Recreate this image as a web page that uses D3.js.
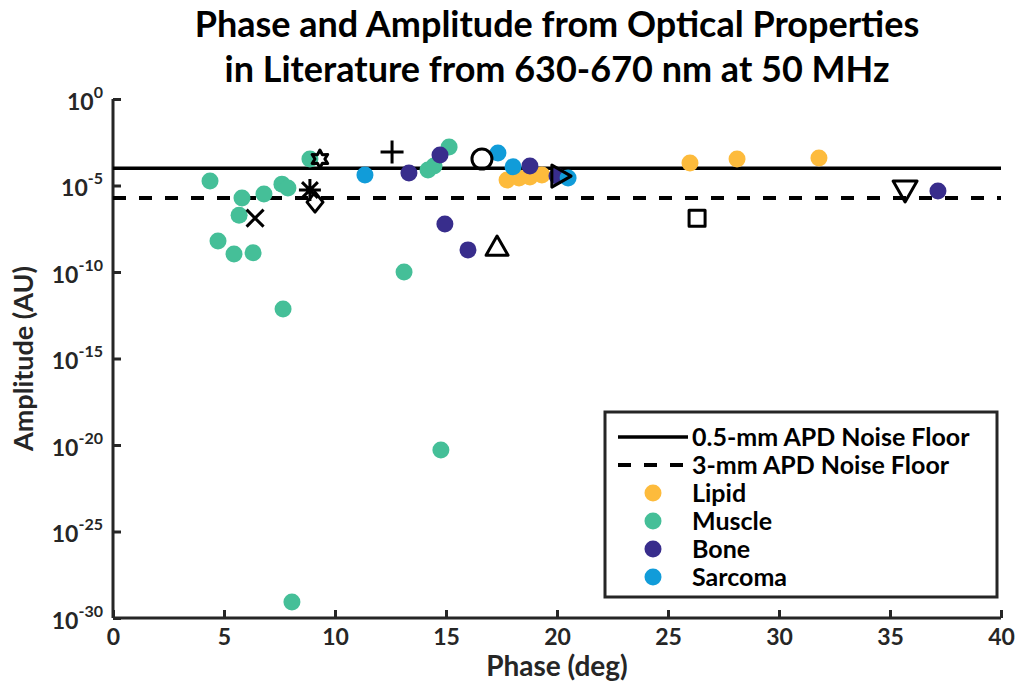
<!DOCTYPE html>
<html>
<head>
<meta charset="utf-8">
<script src="https://cdn.jsdelivr.net/npm/d3@7"></script>
<style>
  body { margin: 0; background: #fff; }
  text { font-family: Lato, "Open Sans", sans-serif; font-weight: bold; }
</style>
</head>
<body>
<svg width="1026" height="692"></svg>
<script>
// phase (deg) and amplitude (AU) per tissue group
var lipidPhase = [17.75, 18.29, 18.78, 19.32, 25.99, 28.11, 31.8];
var lipidAmp = [2.1e-5, 2.7e-5, 3.1e-5, 4.1e-5, 2.0e-4, 3.4e-4, 3.9e-4];

var musclePhase = [4.37, 5.81, 5.68, 4.73, 5.45, 6.31, 6.8, 7.61, 7.88, 7.66, 8.87, 13.11, 14.19, 14.46, 15.14, 14.77, 8.06];
var muscleAmp = [1.8e-5, 1.9e-6, 1.9e-7, 6.2e-9, 1.1e-9, 1.3e-9, 3.2e-6, 1.2e-5, 7.2e-6, 7.2e-13, 3.4e-4, 1.0e-10, 7.9e-5, 1.35e-4, 1.7e-3, 5.1e-21, 8.3e-30];

var bonePhase = [13.33, 14.73, 14.95, 15.99, 18.78, 20.0, 37.16];
var boneAmp = [5.2e-5, 5.8e-4, 5.9e-8, 1.9e-9, 1.35e-4, 3.5e-5, 4.8e-6];

var sarcomaPhase = [11.35, 17.34, 18.02, 20.5];
var sarcomaAmp = [4.1e-5, 7.6e-4, 1.2e-4, 2.7e-5];

// single literature values drawn with black open markers
var refMarkers = ["times", "hexagram", "asterisk", "diamond", "plus", "circle", "triangleUp", "triangleRight", "square", "triangleDown"];
var refPhase = [6.4, 9.32, 8.87, 9.1, 12.57, 16.62, 17.3, 20.14, 26.31, 35.68];
var refAmp = [1.3e-7, 3.4e-4, 5.5e-6, 1.1e-6, 8.7e-4, 3.4e-4, 2.8e-9, 3.5e-5, 1.3e-7, 5.5e-6];

var floorNames = ["0.5-mm APD Noise Floor", "3-mm APD Noise Floor"];
var floorAmp = [1.0e-4, 1.9e-6];

var groupNames = ["Lipid", "Muscle", "Bone", "Sarcoma"];
var groupColors = ["#fdbb3c", "#45bf98", "#382d8c", "#119cd9"];

var xTicks = [0, 5, 10, 15, 20, 25, 30, 35, 40];
var yTickExp = [0, -5, -10, -15, -20, -25, -30];

var svg = d3.select("svg"),
  margin = { top: 99, right: 25, bottom: 74, left: 113 },
  width = +svg.attr("width") - margin.left - margin.right,
  height = +svg.attr("height") - margin.top - margin.bottom,
  g = svg.append("g").attr("transform", "translate(" + margin.left + "," + margin.top + ")");

var axisColor = "#262626";

var x = d3.scaleLinear().domain([0, 40]).range([0, 888]);
var y = d3.scaleLog().domain([1e-30, 1]).range([height, 0]);

// title
var title = svg.append("text")
  .attr("text-anchor", "middle")
  .attr("font-size", 36)
  .attr("fill", "#000");
title.append("tspan").attr("x", margin.left + 444).attr("y", 37).text("Phase and Amplitude from Optical Properties");
title.append("tspan").attr("x", margin.left + 444).attr("y", 82).text("in Literature from 630-670 nm at 50 MHz");

// axes
var xAxis = g.append("g")
  .attr("transform", "translate(0," + height + ")")
  .call(d3.axisBottom(x).tickValues(xTicks).tickSize(-8).tickPadding(11).tickFormat(d3.format("d")));

var yAxis = g.append("g")
  .call(d3.axisLeft(y).tickValues(yTickExp.map(function (e) { return Math.pow(10, e); })).tickSize(-8).tickPadding(10).tickFormat(""));

[xAxis, yAxis].forEach(function (a) {
  a.select(".domain").attr("stroke", axisColor).attr("stroke-width", 3);
  a.selectAll(".tick line").attr("stroke", axisColor).attr("stroke-width", 3);
  a.selectAll(".tick text").attr("fill", axisColor).attr("font-size", 23).attr("font-family", "Lato, sans-serif").attr("font-weight", "bold");
});
xAxis.select(".domain").attr("d", "M0,0H" + x(40));
yAxis.select(".domain").attr("d", "M0," + height + "V0");

yAxis.selectAll(".tick").each(function (d) {
  var t = d3.select(this).append("text")
    .attr("x", -10)
    .attr("dy", "0.45em")
    .attr("text-anchor", "end")
    .attr("fill", axisColor)
    .attr("font-size", 23);
  t.append("tspan").text("10");
  t.append("tspan").attr("font-size", 16).attr("dy", "-0.75em").text(Math.round(Math.log10(d)));
});

g.append("text")
  .attr("x", x(20))
  .attr("y", height + 58)
  .attr("text-anchor", "middle")
  .attr("font-size", 28)
  .attr("fill", axisColor)
  .text("Phase (deg)");

g.append("text")
  .attr("transform", "rotate(-90)")
  .attr("x", -height / 2)
  .attr("y", -80)
  .attr("text-anchor", "middle")
  .attr("font-size", 27)
  .attr("fill", axisColor)
  .text("Amplitude (AU)");

// noise floors
g.selectAll(".floor")
  .data(floorAmp)
  .enter()
  .append("line")
  .attr("class", "floor")
  .attr("x1", x(0))
  .attr("x2", x(40))
  .attr("y1", function (d) { return y(d); })
  .attr("y2", function (d) { return y(d); })
  .attr("stroke", "#000")
  .attr("stroke-width", function (d, i) { return i === 0 ? 3.5 : 4; })
  .attr("stroke-dasharray", function (d, i) { return i === 0 ? null : "13,13"; });

// tissue groups
var groups = [
  { phase: lipidPhase, amp: lipidAmp },
  { phase: musclePhase, amp: muscleAmp },
  { phase: bonePhase, amp: boneAmp },
  { phase: sarcomaPhase, amp: sarcomaAmp }
];
groups.forEach(function (grp, gi) {
  g.append("g")
    .selectAll("circle")
    .data(d3.range(grp.phase.length))
    .enter()
    .append("circle")
    .attr("cx", function (i) { return x(grp.phase[i]); })
    .attr("cy", function (i) { return y(grp.amp[i]); })
    .attr("r", 8.5)
    .attr("fill", groupColors[gi]);
});

// open marker shapes, r = half the marker extent
function shape(fn) {
  return { draw: function (c, size) { fn(c, Math.sqrt(size) / 2); } };
}
var shapes = {
  times: shape(function (c, r) {
    c.moveTo(-r, -r); c.lineTo(r, r); c.moveTo(-r, r); c.lineTo(r, -r);
  }),
  plus: shape(function (c, r) {
    c.moveTo(-r, 0); c.lineTo(r, 0); c.moveTo(0, -r); c.lineTo(0, r);
  }),
  asterisk: shape(function (c, r) {
    c.moveTo(-r, 0); c.lineTo(r, 0); c.moveTo(0, -r); c.lineTo(0, r);
    var k = r * 0.72;
    c.moveTo(-k, -k); c.lineTo(k, k); c.moveTo(-k, k); c.lineTo(k, -k);
  }),
  diamond: shape(function (c, r) {
    c.moveTo(0, -r); c.lineTo(r * 0.8, 0); c.lineTo(0, r); c.lineTo(-r * 0.8, 0); c.closePath();
  }),
  square: shape(function (c, r) {
    c.moveTo(-r, -r); c.lineTo(r, -r); c.lineTo(r, r); c.lineTo(-r, r); c.closePath();
  }),
  circle: shape(function (c, r) {
    c.moveTo(r, 0); c.arc(0, 0, r, 0, 2 * Math.PI);
  }),
  triangleUp: shape(function (c, r) {
    c.moveTo(0, -r); c.lineTo(r, r * 0.75); c.lineTo(-r, r * 0.75); c.closePath();
  }),
  triangleDown: shape(function (c, r) {
    c.moveTo(0, r); c.lineTo(r, -r * 0.75); c.lineTo(-r, -r * 0.75); c.closePath();
  }),
  triangleRight: shape(function (c, r) {
    c.moveTo(r, 0); c.lineTo(-r * 0.75, r); c.lineTo(-r * 0.75, -r); c.closePath();
  }),
  hexagram: shape(function (c, r) {
    for (var i = 0; i < 12; i++) {
      var a = Math.PI / 6 * i - Math.PI / 2, rr = i % 2 ? r * 0.55 : r;
      if (i === 0) c.moveTo(rr * Math.cos(a), rr * Math.sin(a));
      else c.lineTo(rr * Math.cos(a), rr * Math.sin(a));
    }
    c.closePath();
  })
};
var shapeSize = {
  times: 17, plus: 23, asterisk: 22, diamond: 20, square: 16, circle: 20,
  triangleUp: 22, triangleDown: 24, triangleRight: 22, hexagram: 18
};

g.append("g")
  .selectAll("path")
  .data(d3.range(refMarkers.length))
  .enter()
  .append("path")
  .attr("transform", function (i) { return "translate(" + x(refPhase[i]) + "," + y(refAmp[i]) + ")"; })
  .attr("d", function (i) {
    var m = refMarkers[i], s = shapeSize[m];
    return d3.symbol().type(shapes[m]).size(s * s)();
  })
  .attr("fill", "none")
  .attr("stroke", "#000")
  .attr("stroke-width", 3)
  .attr("stroke-linejoin", "round");

// legend
var legend = svg.append("g").attr("transform", "translate(605,412)");
legend.append("rect")
  .attr("width", 392)
  .attr("height", 185)
  .attr("fill", "#fff")
  .attr("stroke", axisColor)
  .attr("stroke-width", 3);

var rowY = [25, 53, 81, 109, 137, 165];
floorNames.forEach(function (name, i) {
  legend.append("line")
    .attr("x1", 13).attr("x2", 83)
    .attr("y1", rowY[i]).attr("y2", rowY[i])
    .attr("stroke", "#000")
    .attr("stroke-width", i === 0 ? 3.5 : 4)
    .attr("stroke-dasharray", i === 0 ? null : "13,13");
  legend.append("text")
    .attr("x", 87).attr("y", rowY[i]).attr("dy", "0.36em")
    .attr("font-size", 25).attr("fill", "#000")
    .text(name);
});
groupNames.forEach(function (name, i) {
  legend.append("circle")
    .attr("cx", 48).attr("cy", rowY[i + 2])
    .attr("r", 8.5)
    .attr("fill", groupColors[i]);
  legend.append("text")
    .attr("x", 87).attr("y", rowY[i + 2]).attr("dy", "0.36em")
    .attr("font-size", 25).attr("fill", "#000")
    .text(name);
});
</script>
</body>
</html>
